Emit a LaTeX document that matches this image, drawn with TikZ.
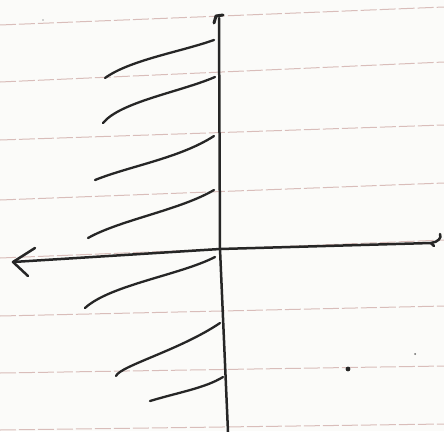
\documentclass[tikz,border=0pt]{standalone}
\definecolor{paper}{HTML}{FBFBF9}
\definecolor{ink}{HTML}{262626}
\definecolor{rule}{HTML}{D9BDBA}
\tikzset{
  pen/.style={draw=ink, line width=2.5pt, line cap=round, line join=round},
  hatch/.style={draw=ink, line width=2.3pt, line cap=round},
  ruling/.style={draw=rule, line width=1pt, dash pattern=on 16pt off 3pt}
}
\begin{document}
\begin{tikzpicture}[x=1pt,y=-1pt]
\fill[paper] (0,0) rectangle (444,431);
\useasboundingbox (0,0) rectangle (444,431);
% ruled lines of the paper
\draw[ruling] (0,25) -- (444,7);
\draw[ruling] (0,82) -- (444,62);
\draw[ruling] (0,140) -- (444,125);
\draw[ruling] (0,200) -- (444,183);
\draw[ruling] (0,258) -- (444,240);
\draw[ruling] (0,316) -- (444,306);
\draw[ruling] (0,373) -- (444,366);
\draw[ruling] (0,430) -- (444,424);
% axes
\coordinate (top) at (219,18);
\coordinate (bot) at (228,432);
\coordinate (o) at (220,249);
\coordinate (lt) at (13,262);
\coordinate (rt) at (431,243);
\draw[pen] (top) -- (o) -- (bot);
\draw[pen, line width=3pt] (214,23) -- (216,16) -- (223,15);
\draw[pen] (lt) -- (o) -- (rt);
\draw[pen] (35,248) -- (lt) -- (28,276);
\draw[pen] (rt) .. controls (438,242) and (442,238) .. (440,234);
\draw[pen] (rt) -- (434,246);
% hatching strokes
\draw[hatch] (105,78) .. controls (130,60) and (180,52) .. (214,40);
\draw[hatch] (103,123) .. controls (120,102) and (180,92) .. (215,77);
\draw[hatch] (95,180) .. controls (130,166) and (180,158) .. (214,136);
\draw[hatch] (88,238) .. controls (120,220) and (180,210) .. (214,190);
\draw[hatch] (85,308) .. controls (110,285) and (180,275) .. (215,257);
\draw[hatch] (116,376) .. controls (120,366) and (180,350) .. (220,323);
\draw[hatch] (150,401) .. controls (180,392) and (205,388) .. (223,377);
% specks
\fill[ink] (348,369) circle (2.4pt);
\fill[ink!70] (415,354) circle (1pt);
\fill[ink!40] (43,20) circle (0.8pt);
\end{tikzpicture}
\end{document}
